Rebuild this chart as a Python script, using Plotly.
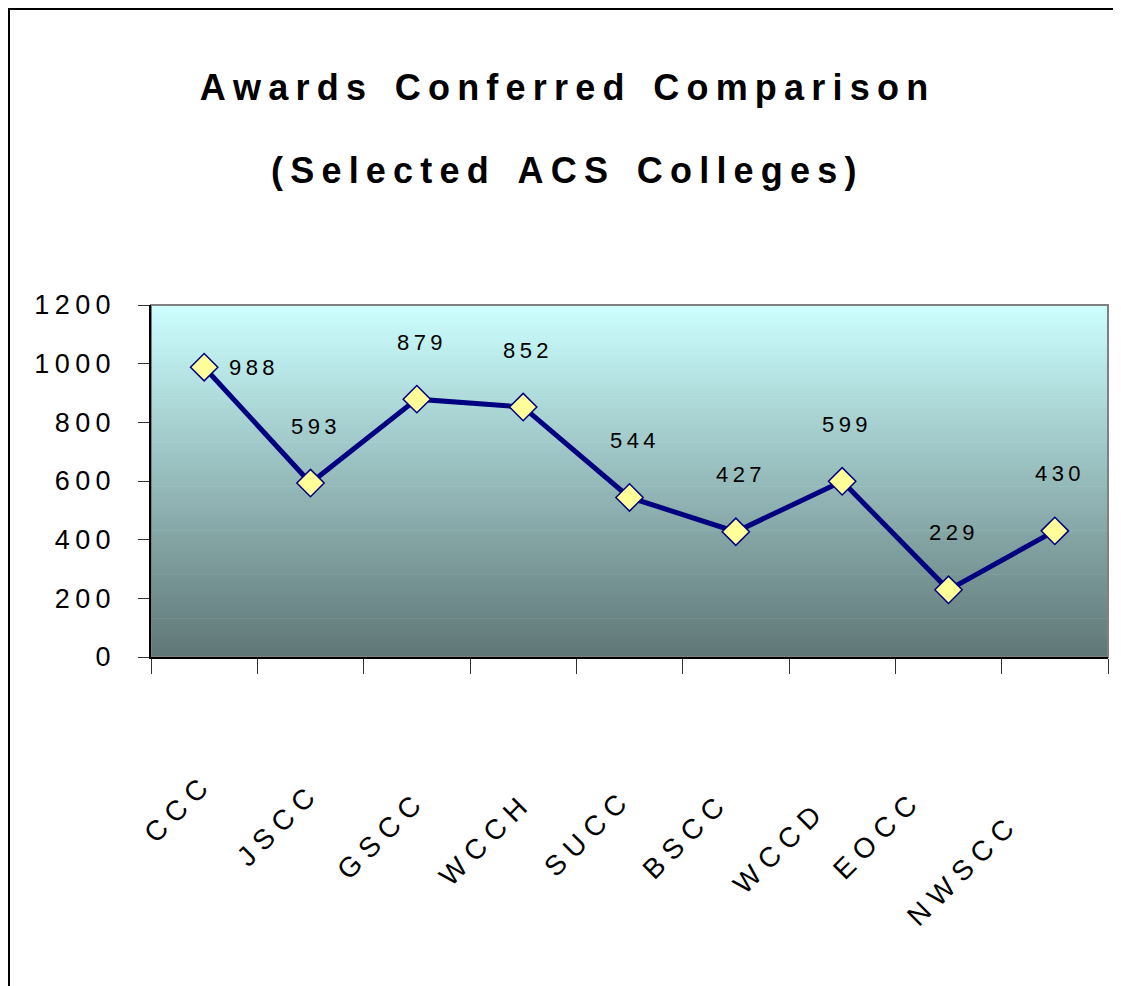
import plotly.graph_objects as go

# ---- data ----
colleges = ["CCC", "JSCC", "GSCC", "WCCH", "SUCC", "BSCC", "WCCD", "EOCC", "NWSCC"]
awards = [988, 593, 879, 852, 544, 427, 599, 229, 430]
y_ticks = [0, 200, 400, 600, 800, 1000, 1200]
title_lines = ["Awards Conferred Comparison", "(Selected ACS Colleges)"]

# ---- style: nudges of the rotated category labels (pixels) ----
xlab_dx = [0, 0, 0, 0, -7, -16, -25, -36, -45]
xlab_dy = [126, 136, 143, 145, 141, 145, 153, 143, 166]

NB = "\u00a0"
TH = "\u2009"


def spaced(s, gap=NB, word_gap=NB * 3):
    words = s.split(" ")
    return word_gap.join(gap.join(list(w)) for w in words)


OFF = 8  # page body margin
PW, PH = 1121, 986
W, H = PW - OFF, PH - OFF
# plot area in page pixels -> figure pixels
L, R, T, B = 151 - OFF, 1108 - OFF, 305 - OFF, 657 - OFF
pw, ph = R - L, B - T

FONT = "Liberation Sans, Arial, sans-serif"

fig = go.Figure()
fig.add_trace(go.Scatter(
    x=colleges, y=awards, mode="lines+markers",
    line=dict(color="#000080", width=5),
    marker=dict(symbol="diamond", size=21, color="#FFFF99",
                line=dict(color="#000080", width=1.5)),
    hoverinfo="x+y", showlegend=False,
))

# data labels
for i, (c, v) in enumerate(zip(colleges, awards)):
    if i == 0:
        xs, ys = 48, 0
    else:
        xs, ys = 3, 57
    fig.add_annotation(x=c, y=v, text=spaced(str(v), gap=TH), showarrow=False,
                       xshift=xs, yshift=ys,
                       font=dict(family=FONT, size=22, color="black"))

# category labels (rotated)
XF = 28
corr = 1.3 * XF / (2 * 2 ** 0.5)
for c, dx, dy in zip(colleges, xlab_dx, xlab_dy):
    fig.add_annotation(x=c, xref="x", y=0, yref="paper",
                       text=spaced(c, gap=NB), showarrow=False, textangle=-45,
                       xanchor="right", yanchor="top",
                       xshift=dx + corr, yshift=-(dy - corr),
                       font=dict(family=FONT, size=XF, color="black"))

# second title line
fig.add_annotation(x=(564 - 151) / pw, xref="paper",
                   y=(657 - 170) / ph, yref="paper",
                   text=spaced(title_lines[1], gap=TH, word_gap=TH * 4),
                   showarrow=False, xanchor="center", yanchor="middle",
                   font=dict(family=FONT, size=36, color="black", weight="bold"))

# gradient background of plot area
top = (204, 255, 255)
bot = (95, 118, 118)
N = 120
shapes = []
for k in range(N):
    f = (k + 0.5) / N  # 0 at bottom, 1 at top
    col = tuple(round(bot[j] + (top[j] - bot[j]) * f) for j in range(3))
    shapes.append(dict(type="rect", xref="x domain", yref="y domain",
                       x0=0, x1=1, y0=k / N, y1=(k + 1) / N + 0.002,
                       fillcolor="rgb(%d,%d,%d)" % col, line=dict(width=0),
                       layer="below"))
# gray frame of plot area
shapes.append(dict(type="rect", xref="x domain", yref="y domain",
                   x0=0, x1=1, y0=0, y1=1, line=dict(color="#808080", width=2),
                   layer="below"))
# outer chart border
shapes.append(dict(type="rect", xref="paper", yref="paper",
                   x0=(1 - L) / pw, x1=(1116 - OFF - L) / pw,
                   y0=(B - 995) / ph, y1=(B - 1) / ph,
                   line=dict(color="black", width=2), layer="above"))

fig.update_layout(
    width=W, height=H,
    margin=dict(l=L, r=W - R, t=T, b=H - B),
    paper_bgcolor="white", plot_bgcolor="rgba(0,0,0,0)",
    shapes=shapes,
    title=dict(
        text=spaced(title_lines[0], gap=TH, word_gap=TH * 4),
        x=(564 - OFF) / W, xanchor="center", xref="container",
        y=1 - (87 - OFF) / H, yanchor="middle", yref="container",
        font=dict(family=FONT, size=36, color="black", weight="bold"),
    ),
    xaxis=dict(
        type="category",
        tickvals=colleges,
        showticklabels=False,
        tickson="boundaries",
        ticks="outside", ticklen=15, tickcolor="#333333", tickwidth=1,
        showline=True, linecolor="black", linewidth=2,
        showgrid=False, zeroline=False,
        range=[-0.5, len(colleges) - 0.5],
    ),
    yaxis=dict(
        range=[0, 1200],
        tickvals=y_ticks,
        ticktext=[spaced(str(t), gap=TH) for t in y_ticks],
        ticks="outside", ticklen=11, tickcolor="#333333", tickwidth=1,
        showline=True, linecolor="black", linewidth=2,
        showgrid=False, zeroline=False,
        ticklabelstandoff=22,
        tickfont=dict(family=FONT, size=27, color="black"),
    ),
)

fig.write_html("out.html")
